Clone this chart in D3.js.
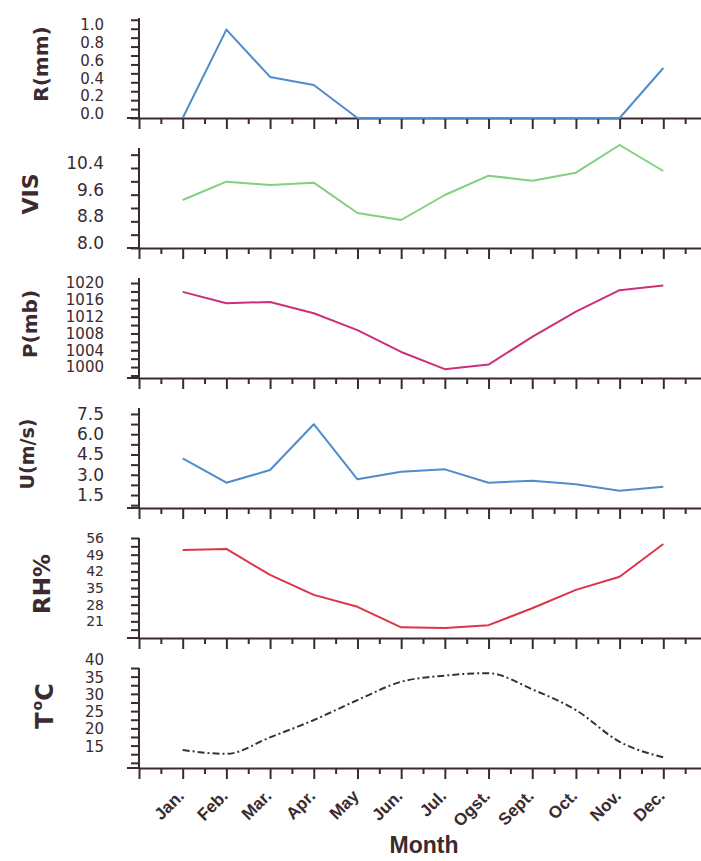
<!DOCTYPE html>
<html><head><meta charset="utf-8">
<script src="https://cdn.jsdelivr.net/npm/d3@7"></script>
<style>body{margin:0;background:#fff}svg{display:block}</style>
</head><body>
<svg id="c" width="701" height="861"></svg>
<script>
// ---------- data ----------
const months = ["Jan.","Feb.","Mar.","Apr.","May","Jun.","Jul.","Ogst.","Sept.","Oct.","Nov.","Dec."];
const rain        = [0, 0.99, 0.46, 0.37, 0, 0, 0, 0, 0, 0, 0, 0.56];
const visibility  = [9.44, 9.99, 9.89, 9.96, 9.05, 8.84, 9.59, 10.17, 10.02, 10.26, 11.09, 10.31];
const pressure    = [1017.9, 1015.2, 1015.5, 1012.8, 1008.8, 1003.6, 999.5, 1000.6, 1007.2, 1013.2, 1018.3, 1019.4];
const wind        = [4.22, 2.41, 3.35, 6.74, 2.66, 3.23, 3.40, 2.41, 2.56, 2.29, 1.82, 2.11];
const humidity    = [51.0, 51.4, 40.5, 32.1, 27.1, 18.5, 18.2, 19.4, 26.5, 34.2, 39.7, 53.5];
const temperature = [16.2, 15.1, 19.9, 24.9, 30.7, 36.0, 37.8, 38.5, 33.8, 27.8, 18.6, 14.1];

const rainTicks = [0.0, 0.2, 0.4, 0.6, 0.8, 1.0];
const visTicks  = [8.0, 8.8, 9.6, 10.4];
const presTicks = [1000, 1004, 1008, 1012, 1016, 1020];
const windTicks = [1.5, 3.0, 4.5, 6.0, 7.5];
const rhTicks   = [21, 28, 35, 42, 49, 56];
const tempTicks = [15, 20, 25, 30, 35, 40];

// ---------- styles / layout ----------
const ink = "#3b2a2f";
const panels = [
  {values: rain, labels: rainTicks, domain: [0, 1.12], minor: [0.1, 1.1, 0.1], fmt: d3.format(".1f"), dy: -4, lfs: 15,
   color: "#4f8ccc", title: "R(mm)", tx: 48, tfs: 20},
  {values: visibility, labels: visTicks, domain: [8, 11], minor: [8.4, 10.8, 0.4], fmt: d3.format(".1f"), dy: -5, lfs: 17,
   color: "#80d080", title: "VIS", tx: 38, tfs: 22},
  {values: pressure, labels: presTicks, domain: [997.4, 1021.2], minor: [998, 1020, 2], fmt: d3.format("d"), dy: 0, lfs: 15,
   color: "#cc3078", title: "P(mb)", tx: 37, tfs: 20},
  {values: wind, labels: windTicks, domain: [0.54, 7.94], minor: [0.75, 7.5, 0.75], fmt: d3.format(".1f"), dy: 0, lfs: 17,
   color: "#4f8ccc", title: "U(m/s)", tx: 34, tfs: 19},
  {values: humidity, labels: rhTicks, domain: [14, 56], minor: [17.5, 56, 3.5], fmt: d3.format("d"), dy: 0, lfs: 14,
   color: "#dd3448", title: "RH%", tx: 50, tfs: 23},
  {values: temperature, labels: tempTicks, domain: [11, 40], minor: [12.5, 40, 2.5], fmt: d3.format("d"), dy: -8, lfs: 15,
   color: "#333333", title: "T", tx: 53, tfs: 24, dash: "7,3,2,3", curve: d3.curveMonotoneX}
];

const svg = d3.select("#c");
const x = d3.scaleLinear().domain([0, 13]).range([139, 707]);
const majorX = d3.range(0, 14);
const minorX = d3.range(0, 13).map(d => d + 0.5);

panels.forEach((p, i) => {
  const top = 18 + 130 * i, bottom = top + 100;
  const y = d3.scaleLinear().domain(p.domain).range([bottom, top]);
  const g = svg.append("g");

  // minor/major y ticks
  const all = d3.range(p.minor[0], p.minor[1] + 1e-6, p.minor[2]).map(v => +v.toFixed(3));
  const ticks = Array.from(new Set(all.concat(p.labels))).sort((a, b) => a - b);
  const yAxis = d3.axisLeft(y).tickValues(ticks).tickSize(8).tickSizeOuter(0).tickPadding(27)
    .tickFormat(d => p.labels.some(l => Math.abs(l - d) < 1e-6) ? p.fmt(d) : "");
  const ya = g.append("g").attr("transform", "translate(139,0)").call(yAxis);
  ya.select(".domain").attr("d", `M0,${top}V${bottom}`);
  ya.selectAll("text").attr("transform", `translate(0,${p.dy})`)
    .attr("font-family", "DejaVu Sans").attr("font-size", p.lfs).attr("fill", ink);

  // x axis with major and minor ticks
  g.append("g").attr("transform", `translate(0,${bottom})`)
    .call(d3.axisBottom(x).tickValues(majorX).tickSize(11).tickSizeOuter(0).tickFormat(""));
  g.append("g").attr("transform", `translate(0,${bottom})`)
    .call(d3.axisBottom(x).tickValues(minorX).tickSize(6).tickSizeOuter(0).tickFormat(""))
    .select(".domain").remove();
  g.append("line").attr("x1", x.range()[0] - 12).attr("x2", x.range()[0])
    .attr("y1", bottom).attr("y2", bottom);

  g.selectAll(".domain, .tick line, line").attr("stroke", ink).attr("stroke-width", 2);

  // data line
  const line = d3.line().x((d, k) => x(k + 1)).y(d => y(d)).curve(p.curve || d3.curveLinear);
  g.append("path").datum(p.values).attr("d", line).attr("fill", "none")
    .attr("stroke", p.color).attr("stroke-width", 2)
    .attr("stroke-dasharray", p.dash || null).attr("stroke-linejoin", "round");

  // y title
  const cy = (top + bottom) / 2 - (i === 5 ? 12 : 4);
  const t = svg.append("text").attr("transform", `translate(${p.tx},${cy}) rotate(-90)`)
    .attr("text-anchor", "middle").attr("font-family", "DejaVu Sans").attr("font-weight", "bold")
    .attr("font-size", p.tfs).attr("fill", ink);
  if (i === 5) {
    t.append("tspan").text("T");
    t.append("tspan").attr("font-size", 14).attr("dy", -11).attr("dx", 2).text("o");
    t.append("tspan").attr("dy", 11).text("C");
  } else t.text(p.title);

  // month labels on the last panel
  if (i === panels.length - 1) {
    const ma = g.append("g").attr("transform", `translate(0,${bottom})`)
      .call(d3.axisBottom(x).tickValues(d3.range(1, 13)).tickSize(0).tickFormat(k => months[k - 1]));
    ma.select(".domain").remove();
    ma.selectAll("text").attr("y", 0).attr("dy", 0)
      .attr("transform", "translate(2,29) rotate(-45)").attr("text-anchor", "end")
      .attr("font-family", "Liberation Sans").attr("font-weight", "bold").attr("font-size", 17).attr("fill", ink);
  }
});

svg.append("text").attr("x", 424).attr("y", 853).attr("text-anchor", "middle")
  .attr("font-family", "Liberation Sans").attr("font-weight", "bold").attr("font-size", 23)
  .attr("fill", ink).text("Month");
</script>
</body></html>
